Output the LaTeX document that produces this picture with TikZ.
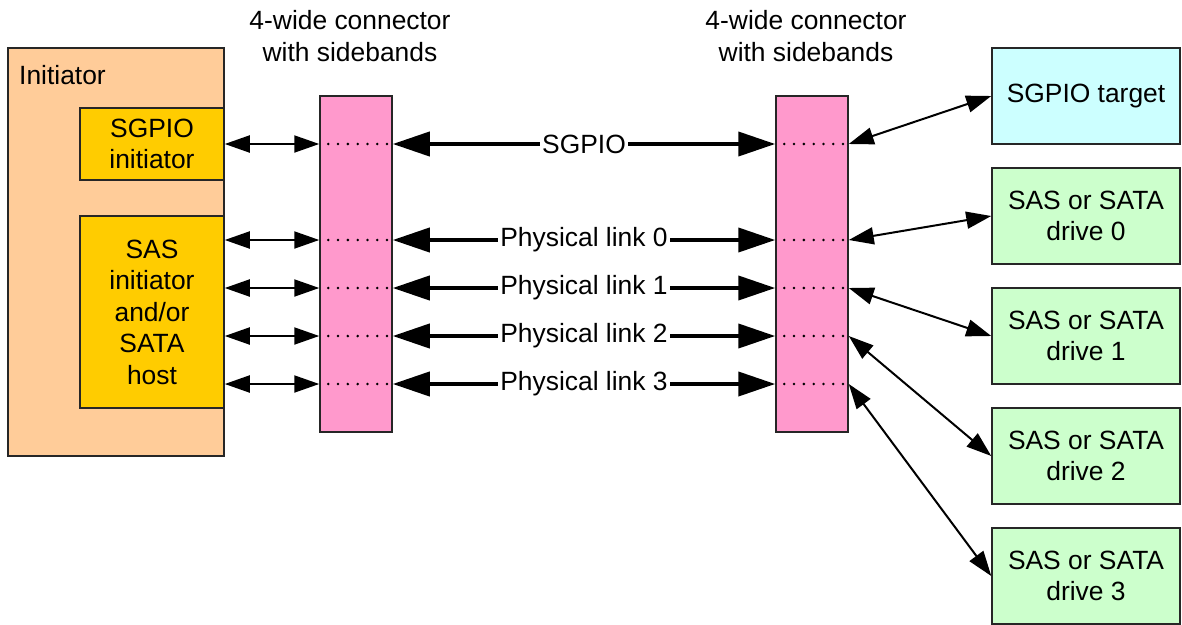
\documentclass[tikz,border=0pt]{standalone}
\usepackage{fontspec}
\setmainfont{Liberation Sans}
\usetikzlibrary{arrows.meta}
\definecolor{peach}{HTML}{FFCC99}
\definecolor{gold}{HTML}{FFCC00}
\definecolor{pinkc}{HTML}{FF99CC}
\definecolor{cyanc}{HTML}{CCFFFF}
\definecolor{greenc}{HTML}{CCFFCC}
\begin{document}
\begin{tikzpicture}[x=1pt,y=-1pt,
  box/.style={draw=black!85, line width=1.5pt, rectangle, inner sep=0pt},
  txt/.style={font=\fontsize{26.4}{31.5}\selectfont, align=center, inner sep=0pt},
  conn/.style={box, fill=pinkc, minimum width=72pt, minimum height=336pt},
  drive/.style={box, txt, fill=greenc, minimum width=188pt, minimum height=96pt},
  thinarrow/.style={line width=2pt, {Triangle[length=25pt,width=17pt]}-{Triangle[length=25pt,width=17pt]}},
  thickarrow/.style={line width=4pt, {Triangle[length=37pt,width=24pt]}-{Triangle[length=37pt,width=24pt]}},
  dots/.style={line width=2.8pt, line cap=round, dash pattern=on 0pt off 9.8pt, dash phase=0.8pt},
  lbl/.style={txt, fill=white, inner xsep=2pt, inner ysep=1pt}
]
\useasboundingbox (0,0) rectangle (1182,624);

% initiator side
\node[box, fill=peach, minimum width=216pt, minimum height=408pt] (init) at (116,252) {};
\node[txt, anchor=west] (initlbl) at (19,75) {Initiator};
\node[box, txt, fill=gold, minimum width=144pt, minimum height=72pt] (sgi) at (152,144) {SGPIO\\initiator};
\node[box, txt, fill=gold, minimum width=144pt, minimum height=192pt] (sas) at (152,312) {SAS\\initiator\\and/or\\SATA\\host};

% connectors
\node[conn] (lc) at (356,264) {};
\node[conn] (rc) at (812,264) {};
\node[txt] (lcl) at (350,36) {4-wide connector\\with sidebands};
\node[txt] (rcl) at (806,36) {4-wide connector\\with sidebands};

% targets
\node[box, txt, fill=cyanc, minimum width=188pt, minimum height=96pt] (tgt) at (1086,96) {SGPIO target};
\node[drive] (d0) at (1086,216) {SAS or SATA\\drive 0};
\node[drive] (d1) at (1086,336) {SAS or SATA\\drive 1};
\node[drive] (d2) at (1086,456) {SAS or SATA\\drive 2};
\node[drive] (d3) at (1086,576) {SAS or SATA\\drive 3};

% row coordinates
\foreach \i/\y in {0/144,1/240,2/288,3/336,4/384}{
  \coordinate (lw\i) at (lc.west |- 0,\y);
  \coordinate (le\i) at (lc.east |- 0,\y);
  \coordinate (rw\i) at (rc.west |- 0,\y);
  \coordinate (re\i) at (rc.east |- 0,\y);
  \draw[dots] (lw\i) -- (le\i);
  \draw[dots] (rw\i) -- (re\i);
}

% left thin arrows
\draw[thinarrow] (sgi.east |- lw0) -- (lw0);
\foreach \i in {1,2,3,4}{
  \draw[thinarrow] (sas.east |- lw\i) -- (lw\i);
}

% thick arrows
\draw[thickarrow] (le0) -- node[lbl] {SGPIO} (rw0);
\draw[thickarrow] (le1) -- node[lbl] {Physical link 0} (rw1);
\draw[thickarrow] (le2) -- node[lbl] {Physical link 1} (rw2);
\draw[thickarrow] (le3) -- node[lbl] {Physical link 2} (rw3);
\draw[thickarrow] (le4) -- node[lbl] {Physical link 3} (rw4);

% right thin arrows
\draw[thinarrow] (re0) -- (tgt.west);
\draw[thinarrow] (re1) -- (d0.west);
\draw[thinarrow] (re2) -- (d1.west);
\draw[thinarrow] (re3) -- (d2.west);
\draw[thinarrow] (re4) -- (d3.west);
\end{tikzpicture}
\end{document}
